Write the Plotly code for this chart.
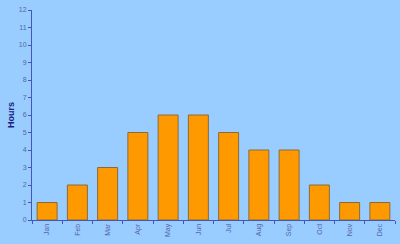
import plotly.graph_objects as go

months = ["Jan", "Feb", "Mar", "Apr", "May", "Jun", "Jul", "Aug", "Sep", "Oct", "Nov", "Dec"]
hours = [1, 2, 3, 5, 6, 6, 5, 4, 4, 2, 1, 1]
y_ticks = list(range(0, 13))

fig = go.Figure()
fig.add_trace(go.Bar(
    x=months, y=hours,
    marker=dict(color="#FF9900", line=dict(color="#8a6a3a", width=1)),
    width=0.66,
))
fig.update_layout(
    width=400, height=244,
    margin=dict(l=32, r=5, t=10, b=24),
    paper_bgcolor="#99CCFF", plot_bgcolor="#99CCFF",
    showlegend=False,
    font=dict(family="Liberation Sans, Arial, sans-serif", size=7, color="#5566aa"),
    bargap=0.34,
)
fig.update_yaxes(
    range=[0, 12], tickvals=y_ticks, showgrid=False, zeroline=False,
    showline=True, linecolor="#4455bb", linewidth=1,
    ticks="outside", ticklen=3, tickcolor="#4455bb",
    title=dict(text="<b>Hours</b>", font=dict(size=9, color="#1a237e"), standoff=2),
)
fig.update_xaxes(
    showgrid=False, showline=True, linecolor="#4455bb", linewidth=1,
    ticks="outside", ticklen=3, tickcolor="#4455bb", tickson="boundaries",
    tickangle=-90,
)
fig.write_html("out.html")
